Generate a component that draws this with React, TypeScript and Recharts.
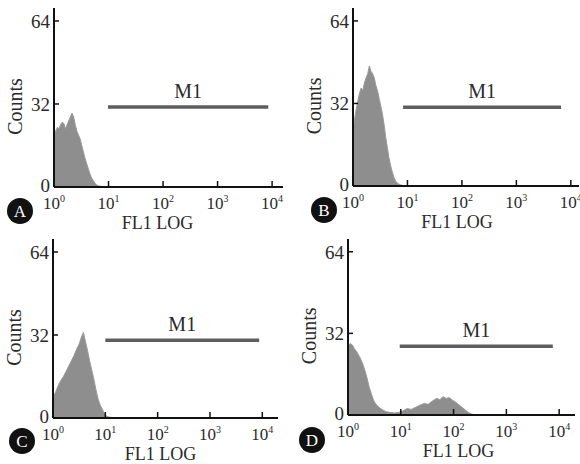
import React from 'react';
import { AreaChart, Area, XAxis, YAxis, ReferenceLine, Label } from 'recharts';

// ---- data (log10 fluorescence, counts) ----
const xTicks = [0, 1, 2, 3, 4];
const yTicks = [0, 32, 64];
const yMax = 69;

const logA = [0, 0.03, 0.06, 0.09, 0.12, 0.15, 0.18, 0.21, 0.24, 0.27, 0.3, 0.33, 0.36, 0.39, 0.42, 0.45, 0.48, 0.51, 0.54, 0.57, 0.6, 0.63, 0.66, 0.69, 0.72, 0.75, 0.78, 0.82, 0.88, 0.95, 1.0];
const countsA = [23, 21, 23, 22.5, 24, 25, 24.5, 22.5, 24, 25.5, 27, 28.5, 27, 24, 21.5, 20, 18.5, 16, 13.5, 11, 9, 7, 5, 3.5, 2.5, 1.5, 0.8, 0.4, 0.2, 0.1, 0];

const logB = [0, 0.03, 0.06, 0.09, 0.12, 0.15, 0.18, 0.21, 0.24, 0.27, 0.3, 0.33, 0.36, 0.39, 0.42, 0.45, 0.48, 0.51, 0.54, 0.57, 0.6, 0.63, 0.66, 0.69, 0.72, 0.75, 0.78, 0.82, 0.88, 0.95];
const countsB = [22, 26, 30, 33, 36, 38, 37, 40, 42, 43.5, 46.5, 44.5, 43.5, 42, 39, 37, 34, 31, 28, 24, 19, 15, 11, 8, 5.5, 3.5, 2, 1, 0.4, 0];

const logC = [0, 0.05, 0.1, 0.15, 0.2, 0.25, 0.3, 0.35, 0.4, 0.45, 0.5, 0.54, 0.58, 0.62, 0.66, 0.7, 0.74, 0.77, 0.82, 0.86, 0.9, 0.94, 0.98, 1.02, 1.08, 1.2, 1.3];
const countsC = [8, 10, 12.5, 14.5, 16, 18, 20, 22, 24, 26.5, 28.5, 31, 33, 29.5, 26, 22, 18.5, 16, 11, 7.5, 5, 3.5, 1.8, 0.7, 0.3, 0.1, 0];

const logD = [0, 0.04, 0.08, 0.12, 0.16, 0.2, 0.24, 0.28, 0.32, 0.36, 0.4, 0.44, 0.48, 0.52, 0.56, 0.6, 0.66, 0.72, 0.8, 0.88, 0.96, 1.04, 1.12, 1.2, 1.28, 1.36, 1.44, 1.52, 1.6, 1.68, 1.74, 1.8, 1.86, 1.92, 1.98, 2.04, 2.1, 2.16, 2.22, 2.28, 2.34, 2.4];
const countsD = [27, 28, 27.5, 26, 25, 23.5, 22, 20, 17.5, 14.5, 11, 8.5, 6, 4.5, 3.5, 2.8, 2, 1.3, 1, 0.8, 1, 1.6, 2.5, 2.2, 3, 3.8, 4.5, 4.2, 5.5, 6.5, 6, 7.2, 6.5, 6.8, 5.8, 5, 4, 3, 2, 1, 0.4, 0];

const gateA = [0.99, 3.93];
const gateB = [0.92, 3.82];
const gateC = [1.0, 3.94];
const gateD = [0.98, 3.88];
const levelA = 30.8;
const levelB = 30.5;
const levelC = 30.0;
const levelD = 27.0;

const letters = ['A', 'B', 'C', 'D'];

// ---- layout ----
const W = 580;
const H = 464;
const FONT = '"Liberation Serif", "Times New Roman", serif';
const TXT = '#2a2a2a';

const layouts = [
  { left: 54, top: 8, right: 283, bottom: 187, xMax: 4.2, cdx: -34, cdy: 24, fdx: -11 },
  { left: 353, top: 8, right: 579, bottom: 186, xMax: 4.15, cdx: -29, cdy: 24, fdx: -9 },
  { left: 53, top: 239, right: 278, bottom: 418, xMax: 4.3, cdx: -31, cdy: 23, fdx: -5 },
  { left: 348, top: 239, right: 575, bottom: 415, xMax: 4.3, cdx: -36, cdy: 25, fdx: -3 },
];

const XTick = (props: any) => {
  const { x, y, payload } = props;
  return (
    <text x={x} y={y + 22} textAnchor="middle" fontFamily={FONT} fontSize={17} fill={TXT}>
      10
      <tspan dy={-7} fontSize={10}>{payload.value}</tspan>
    </text>
  );
};

const YTick = (props: any) => {
  const { x, y, payload } = props;
  return (
    <text x={x} y={y + (payload.value === 0 ? 5 : 7)} textAnchor="end" fontFamily={FONT} fontSize={19} fill={TXT}>
      {payload.value}
    </text>
  );
};

function Panel({ idx, logX, counts, gate, level }: any) {
  const L = layouts[idx];
  const data = logX.map((x: number, i: number) => ({ x, c: counts[i] }));
  const xLabel = (p: any) => {
    const vb = p.viewBox;
    const cx = vb.x + vb.width / 2 + L.fdx;
    return (
      <g>
        <text x={cx} y={vb.y + 42} textAnchor="middle" fontFamily={FONT} fontSize={18} fill={TXT}>
          FL1 LOG
        </text>
        <circle cx={vb.x + L.cdx} cy={vb.y + L.cdy} r={13} fill="#111" />
        <text x={vb.x + L.cdx} y={vb.y + L.cdy + 6} textAnchor="middle" fontFamily={FONT} fontSize={17} fill="#fff">
          {letters[idx]}
        </text>
      </g>
    );
  };
  const yLabel = (p: any) => {
    const vb = p.viewBox;
    const cx = vb.x - 38;
    const cy = vb.y + vb.height * 0.55;
    return (
      <text x={cx} y={cy} transform={`rotate(-90 ${cx} ${cy})`} textAnchor="middle" dominantBaseline="central" fontFamily={FONT} fontSize={20} fill={TXT}>
        Counts
      </text>
    );
  };
  return (
    <div style={{ position: 'absolute', left: 0, top: 0, width: W, height: H }}>
      <AreaChart
        width={W}
        height={H}
        data={data}
        margin={{ top: L.top, left: L.left - 1, right: W - L.right, bottom: H - L.bottom - 1 }}
      >
        <XAxis
          type="number"
          dataKey="x"
          domain={[0, L.xMax]}
          ticks={xTicks}
          interval={0}
          allowDataOverflow
          height={1}
          tickSize={-6}
          tickMargin={6}
          tick={<XTick />}
          axisLine={{ stroke: '#111', strokeWidth: 2 }}
          tickLine={{ stroke: '#111', strokeWidth: 1.5 }}
        >
          <Label content={xLabel} />
        </XAxis>
        <YAxis
          type="number"
          domain={[0, yMax]}
          ticks={yTicks}
          interval={0}
          allowDataOverflow
          width={1}
          tickSize={-5}
          tickMargin={9}
          tick={<YTick />}
          axisLine={{ stroke: '#111', strokeWidth: 2 }}
          tickLine={{ stroke: '#111', strokeWidth: 1.5 }}
        >
          <Label content={yLabel} />
        </YAxis>
        <Area
          dataKey="c"
          type="linear"
          fill="#8e8e8e"
          fillOpacity={1}
          stroke="#9a9a9a"
          strokeWidth={1}
          baseValue={0}
          isAnimationActive={false}
          dot={false}
          activeDot={false}
        />
        <ReferenceLine
          segment={[{ x: gate[0], y: level }, { x: gate[1], y: level }]}
          stroke="#5e5e5e"
          strokeWidth={3.5}
          ifOverflow="visible"
          label={{ value: 'M1', position: 'top', offset: 9, fontFamily: FONT, fontSize: 20, fill: TXT }}
        />
      </AreaChart>
    </div>
  );
}

export default function App() {
  return (
    <div style={{ position: 'absolute', left: 0, top: 0, width: W, height: H, background: '#fff' }}>
      <Panel idx={0} logX={logA} counts={countsA} gate={gateA} level={levelA} />
      <Panel idx={1} logX={logB} counts={countsB} gate={gateB} level={levelB} />
      <Panel idx={2} logX={logC} counts={countsC} gate={gateC} level={levelC} />
      <Panel idx={3} logX={logD} counts={countsD} gate={gateD} level={levelD} />
    </div>
  );
}
